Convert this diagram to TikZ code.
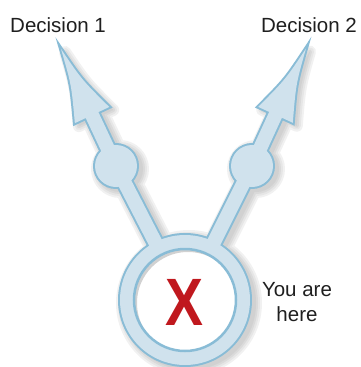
\documentclass[tikz,border=0pt]{standalone}
\usepackage{fontspec}
\setmainfont{Liberation Sans}
\usetikzlibrary{calc}
\definecolor{pathblue}{RGB}{208,226,237}
\definecolor{edgeblue}{RGB}{137,188,214}
\definecolor{markred}{RGB}{192,24,30}

\begin{document}
\begin{tikzpicture}[x=1pt, y=-1pt,
  choice/.style={font=\fontsize{20.5}{25}\selectfont, text=black!88, inner sep=0pt},
  xmark/.style={font=\fontsize{67}{67}\selectfont\bfseries, text=markred, xscale=0.85, inner sep=0pt},
  rim/.style={draw=edgeblue, line width=4pt, miter limit=12}]
  \useasboundingbox (0,0) rectangle (360,367);
  % Points of the path
  \coordinate (ring)  at (185,300);
  \coordinate (stop1) at (116,166);
  \coordinate (stop2) at (252,166);
  \coordinate (tip1)  at (61,49);
  \coordinate (tip2)  at (306,48.5);
  \foreach \i in {1,2} {
    \coordinate (base\i) at ($(tip\i)!73pt!(stop\i)$);
    \coordinate (neck\i) at ($(tip\i)!55pt!(stop\i)$);
    \coordinate (axis\i) at ($(tip\i)!0.5!(base\i)$);
    \coordinate (barbA\i) at ($(base\i)!19pt!90:(tip\i)$);
    \coordinate (barbB\i) at ($(base\i)!19pt!-90:(tip\i)$);
    \coordinate (midA\i) at ($(tip\i)!0.5!(barbA\i)$);
    \coordinate (midB\i) at ($(tip\i)!0.5!(barbB\i)$);
    \coordinate (bowA\i) at ($(midA\i)!0.4!(axis\i)$);
    \coordinate (bowB\i) at ($(midB\i)!0.4!(axis\i)$);
  }
  % Soft shadow
  \begin{scope}[transparency group, opacity=0.18, transform canvas={shift={(4,3)}}]
    \foreach \w/\s/\g in {12/30/30, 8/26/55, 4/22/80, 0.1/18/100} {
      \draw[black!\g, line width=\s pt] (ring) -- (stop1) (ring) -- (stop2)
        (stop1) -- (neck1) (stop2) -- (neck2);
      \filldraw[black!\g, line width=\w pt, line join=round]
        (ring) circle[radius=67] (stop1) circle[radius=23] (stop2) circle[radius=23]
        (base1) -- (barbB1) .. controls (bowB1) .. (tip1) .. controls (bowA1) .. (barbA1) -- cycle
        (base2) -- (barbB2) .. controls (bowB2) .. (tip2) .. controls (bowA2) .. (barbA2) -- cycle;
    }
  \end{scope}
  % Outline
  \draw[edgeblue, line width=18pt] (ring) -- (stop1) (ring) -- (stop2)
    (stop1) -- (neck1) (stop2) -- (neck2);
  \draw[rim] (ring) circle[radius=65] (stop1) circle[radius=21] (stop2) circle[radius=21];
  \foreach \i in {1,2}
    \draw[rim, line join=miter] (base\i) -- (barbB\i) .. controls (bowB\i) .. (tip\i)
      .. controls (bowA\i) .. (barbA\i) -- cycle;
  % Fill
  \draw[pathblue, line width=14pt] (ring) -- (stop1) (ring) -- (stop2)
    (stop1) -- (neck1) (stop2) -- (neck2);
  \fill[pathblue] (ring) circle[radius=65] (stop1) circle[radius=21] (stop2) circle[radius=21];
  \foreach \i in {1,2}
    \fill[pathblue] (base\i) -- (barbB\i) .. controls (bowB\i) .. (tip\i)
      .. controls (bowA\i) .. (barbA\i) -- cycle;
  % Hole of the ring
  \fill[white] (ring) circle[radius=51];
  \begin{scope}[transparency group, opacity=0.18]
    \clip (ring) circle[radius=51];
    \foreach \r/\g in {67/30, 64/60, 61/100}
      \draw[black!\g, line width=20pt] ($(ring)+(3,3)$) circle[radius=\r];
  \end{scope}
  \draw[edgeblue, line width=2.5pt] (ring) circle[radius=51];
  % Labels
  \node[xmark] (here) at ($(ring)+(-1,2)$) {X};
  \node[choice, anchor=base west] (dec1) at (10,32) {Decision 1};
  \node[choice, anchor=base east] (dec2) at (357,32) {Decision 2};
  \node[choice, align=center] (you) at (297,302) {You are\\here};
\end{tikzpicture}
\end{document}
